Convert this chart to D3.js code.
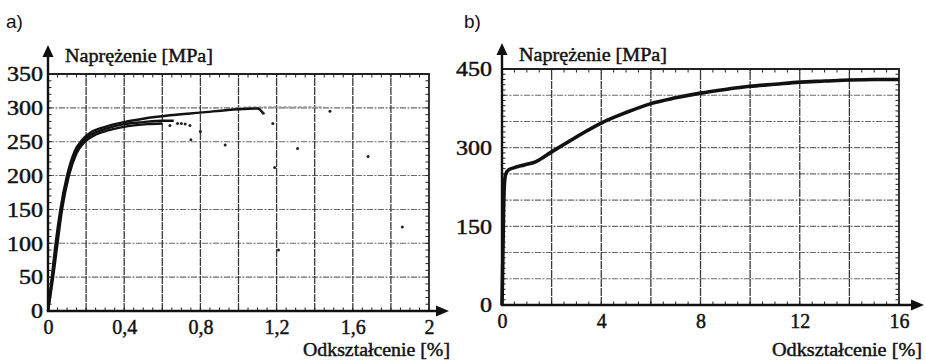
<!DOCTYPE html>
<html><head><meta charset="utf-8">
<script src="https://cdn.jsdelivr.net/npm/d3@7"></script>
<style>
body{margin:0;background:#fff;}
svg{display:block;}
.serif{font-family:"Liberation Serif","Times New Roman",serif;fill:#111;stroke:#111;stroke-width:0.45px;}
</style></head>
<body>
<svg id="c" width="926" height="361"></svg>
<script>
// ---------- DATA ----------
// Panel a)
const leftXTicks = [0, 0.4, 0.8, 1.2, 1.6, 2];
const leftXTickLabels = ["0", "0,4", "0,8", "1,2", "1,6", "2"];
const leftYTicks = [0, 50, 100, 150, 200, 250, 300, 350];
const leftYTickLabels = ["0", "50", "100", "150", "200", "250", "300", "350"];
const leftXGrid = [0.2, 0.4, 0.6, 0.8, 1.0, 1.2, 1.4, 1.6, 1.8];
const leftYGrid = [50, 100, 150, 200, 250, 300];

const curveA_strain = [0, 0.02, 0.04, 0.065, 0.1, 0.14, 0.18, 0.22, 0.3, 0.4, 0.5, 0.64, 0.8, 1.0, 1.1, 1.13];
const curveA_stress = [0, 50, 100, 150, 200, 236, 253, 263, 272, 279, 284, 289, 293, 298, 299, 292];
const curveB_strain = [0, 0.023, 0.045, 0.069, 0.104, 0.145, 0.185, 0.23, 0.3, 0.4, 0.5, 0.6, 0.66];
const curveB_stress = [0, 50, 100, 150, 200, 235, 251, 261, 269, 276, 279, 281, 281];
const curveC_strain = [0, 0.027, 0.05, 0.074, 0.11, 0.15, 0.19, 0.24, 0.32, 0.42, 0.52, 0.6];
const curveC_stress = [0, 50, 100, 150, 200, 233, 249, 259, 267, 273, 276, 277];
const tail_strain = [1.0, 1.1, 1.2, 1.3, 1.45];
const tail_stress = [300, 301, 301, 301, 301];
const dots_strain = [0.64, 0.68, 0.7, 0.72, 0.745, 0.75, 0.8, 0.93, 1.13, 1.18, 1.19, 1.21, 1.31, 1.48, 1.68, 1.86];
const dots_stress = [274, 277, 277, 276, 274, 253, 265, 245, 292, 277, 212, 90, 240, 295, 228, 124];

// Panel b)
const rightXTicks = [0, 4, 8, 12, 16];
const rightXTickLabels = ["0", "4", "8", "12", "16"];
const rightYTicks = [0, 150, 300, 450];
const rightYTickLabels = ["0", "150", "300", "450"];
const rightXGrid = [2, 4, 6, 8, 10, 12, 14];
const rightYGrid = [50, 100, 150, 200, 250, 300, 350, 400];

const right_strain = [0, 0.03, 0.06, 0.09, 0.14, 0.25, 0.5, 0.9, 1.35, 2, 2.7, 3.3, 4, 5, 6, 7, 8, 9, 10, 11, 12, 13, 14, 15, 16];
const right_stress = [0, 80, 170, 225, 248, 257, 262, 267, 273, 292, 312, 329, 347, 367, 384, 395, 404, 411, 417, 421, 425, 427, 429, 430, 430];

const yTitle = "Naprężenie [MPa]";
const xTitle = "Odkształcenie [%]";

// ---------- DRAW ----------
const svg = d3.select("#c");
const zip = (a, b) => a.map((v, i) => [v, b[i]]);

function panel(cfg) {
  const g = svg.append("g");
  const x = d3.scaleLinear().domain(cfg.xDom).range(cfg.xRange);
  const y = d3.scaleLinear().domain(cfg.yDom).range(cfg.yRange);
  const [x0, x1] = cfg.xRange, [y0, y1] = cfg.yRange;

  g.selectAll(".hg").data(cfg.yGrid).join("line")
    .attr("x1", x0).attr("x2", x1).attr("y1", d => y(d)).attr("y2", d => y(d))
    .attr("stroke", "#6a6a6a").attr("stroke-width", 1.1).attr("stroke-dasharray", "6,1.5,2,1.5");
  g.selectAll(".vg").data(cfg.xGrid).join("line")
    .attr("x1", d => x(d)).attr("x2", d => x(d)).attr("y1", y0).attr("y2", y1)
    .attr("stroke", "#3a3a3a").attr("stroke-width", 1.3).attr("stroke-dasharray", "8,1");

  const xm = d3.range(cfg.xDom[0], cfg.xDom[1] + 1e-9, cfg.xMinor);
  const ym = d3.range(cfg.yDom[0], cfg.yDom[1] + 1e-9, cfg.yMinor);
  g.selectAll(".tb").data(xm).join("line")
    .attr("x1", d => x(d)).attr("x2", d => x(d)).attr("y1", y0).attr("y2", y0 - 3.5)
    .attr("stroke", "#222").attr("stroke-width", 1);
  g.selectAll(".tt").data(xm).join("line")
    .attr("x1", d => x(d)).attr("x2", d => x(d)).attr("y1", y1).attr("y2", y1 + 3.5)
    .attr("stroke", "#222").attr("stroke-width", 1);
  g.selectAll(".tl").data(ym).join("line")
    .attr("x1", x0).attr("x2", x0 + 3.5).attr("y1", d => y(d)).attr("y2", d => y(d))
    .attr("stroke", "#222").attr("stroke-width", 1);
  g.selectAll(".tr").data(ym).join("line")
    .attr("x1", x1).attr("x2", x1 - 3.5).attr("y1", d => y(d)).attr("y2", d => y(d))
    .attr("stroke", "#222").attr("stroke-width", 1);

  g.append("path").attr("d", `M${x0},${y1}H${x1}V${y0}`)
    .attr("fill", "none").attr("stroke", "#222").attr("stroke-width", 1.8);
  g.append("line").attr("x1", x0).attr("x2", x0).attr("y1", y0 + 1).attr("y2", cfg.yArrow + 8)
    .attr("stroke", "#111").attr("stroke-width", 2.4);
  g.append("line").attr("x1", x0 - 1).attr("x2", cfg.xArrow - 8).attr("y1", y0).attr("y2", y0)
    .attr("stroke", "#111").attr("stroke-width", 2.6);
  g.append("path").attr("d", `M${x0},${cfg.yArrow}L${x0 - 5.5},${cfg.yArrow + 12}L${x0 + 5.5},${cfg.yArrow + 12}Z`).attr("fill", "#111");
  g.append("path").attr("d", `M${cfg.xArrow},${y0}L${cfg.xArrow - 13},${y0 - 5.5}L${cfg.xArrow - 13},${y0 + 5.5}Z`).attr("fill", "#111");

  const xa = g.append("g").attr("transform", `translate(0,${y0 + 23})`)
    .call(d3.axisBottom(x).tickValues(cfg.xTicks).tickSize(0)
      .tickFormat((d, i) => cfg.xTickLabels[i]));
  xa.select(".domain").remove();
  xa.selectAll("text").attr("class", "serif").attr("font-size", 20).attr("dy", 0)
    .attr("y", 0).attr("font-family", null).attr("fill", null);
  const ya = g.append("g").attr("transform", `translate(${x0 - cfg.yLabelGap},0)`)
    .call(d3.axisLeft(y).tickValues(cfg.yTicks).tickSize(0)
      .tickFormat((d, i) => cfg.yTickLabels[i]));
  ya.select(".domain").remove();
  ya.selectAll("text").attr("class", "serif").attr("font-size", 20).attr("x", 0).attr("dy", "0.34em")
    .attr("font-family", null).attr("fill", null)
    .each(function () { const w = this.getComputedTextLength(); d3.select(this).attr("textLength", w * 1.2).attr("lengthAdjust", "spacingAndGlyphs"); });

  g.append("text").attr("class", "serif").attr("x", cfg.yTitleX).attr("y", cfg.yTitleY)
    .attr("font-size", 19).attr("textLength", 148).attr("lengthAdjust", "spacingAndGlyphs").text(yTitle);
  g.append("text").attr("class", "serif").attr("x", cfg.xTitleX).attr("y", 356)
    .attr("font-size", 19).attr("textLength", cfg.xTitleW).attr("lengthAdjust", "spacingAndGlyphs").text(xTitle);
  g.append("text").attr("x", cfg.letterX).attr("y", 28)
    .attr("font-family", "Liberation Sans, Arial, sans-serif").attr("font-size", 19).attr("fill", "#111").text(cfg.letter);

  return { g, x, y };
}

const A = panel({
  xDom: [0, 2], yDom: [0, 350], xRange: [48, 429], yRange: [311, 74],
  xGrid: leftXGrid, yGrid: leftYGrid, xMinor: 0.05, yMinor: 10,
  xTicks: leftXTicks, xTickLabels: leftXTickLabels, yTicks: leftYTicks, yTickLabels: leftYTickLabels,
  yArrow: 45, xArrow: 449, yLabelGap: 5, yTitleX: 65, yTitleY: 62, xTitleX: 303, xTitleW: 147,
  letter: "a)", letterX: 6
});
const lineA = d3.line().x(d => A.x(d[0])).y(d => A.y(d[1])).curve(d3.curveMonotoneX);
A.g.append("path").datum(zip(tail_strain, tail_stress)).attr("d", lineA)
  .attr("fill", "none").attr("stroke", "#999").attr("stroke-width", 2).attr("stroke-dasharray", "3,2");
[[curveC_strain, curveC_stress], [curveB_strain, curveB_stress], [curveA_strain, curveA_stress]].forEach(([s, t]) => {
  A.g.append("path").datum(zip(s, t)).attr("d", lineA)
    .attr("fill", "none").attr("stroke", "#111").attr("stroke-width", 2.4);
});
A.g.selectAll(".dot").data(zip(dots_strain, dots_stress)).join("circle")
  .attr("cx", d => A.x(d[0])).attr("cy", d => A.y(d[1])).attr("r", 1.5).attr("fill", "#222");

const B = panel({
  xDom: [0, 16], yDom: [0, 450], xRange: [502, 899], yRange: [305, 69],
  xGrid: rightXGrid, yGrid: rightYGrid, xMinor: 0.5, yMinor: 10,
  xTicks: rightXTicks, xTickLabels: rightXTickLabels, yTicks: rightYTicks, yTickLabels: rightYTickLabels,
  yArrow: 43, xArrow: 924, yLabelGap: 10, yTitleX: 519, yTitleY: 61, xTitleX: 772, xTitleW: 150,
  letter: "b)", letterX: 464
});
const lineB = d3.line().x(d => B.x(d[0])).y(d => B.y(d[1])).curve(d3.curveMonotoneX);
B.g.append("path").datum(zip(right_strain, right_stress)).attr("d", lineB)
  .attr("fill", "none").attr("stroke", "#111").attr("stroke-width", 3.6).attr("stroke-linejoin", "round");
</script>
</body></html>
